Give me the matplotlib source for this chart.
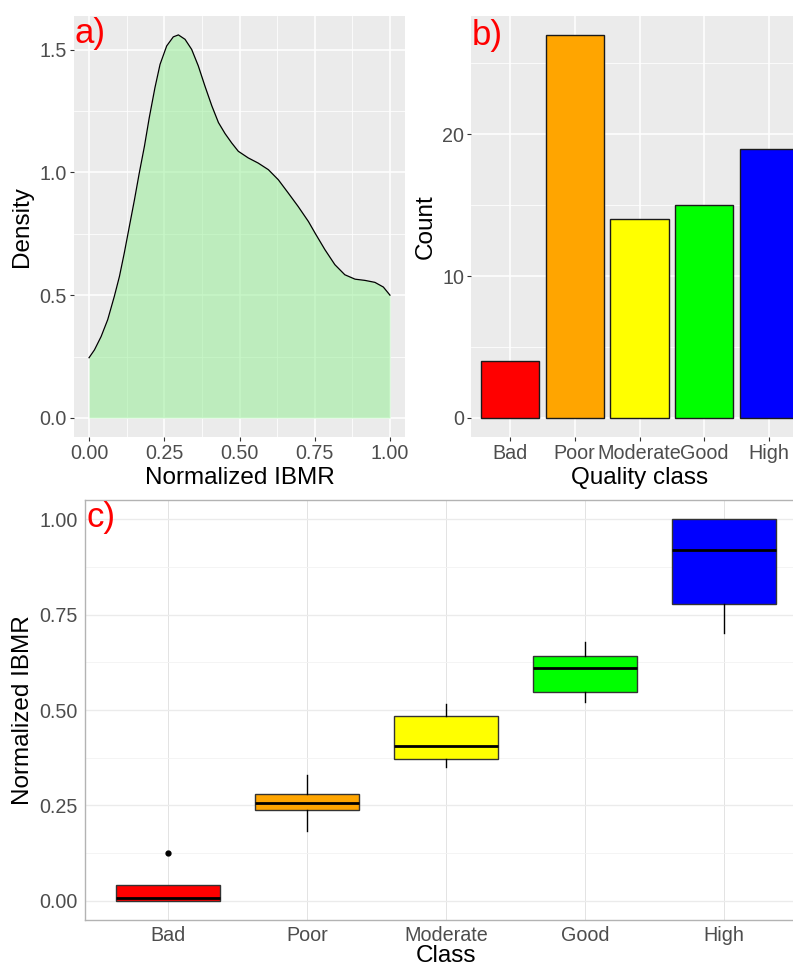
import numpy as np
import matplotlib
matplotlib.use("Agg")
from matplotlib import pyplot as plt
from matplotlib.ticker import MultipleLocator

plt.rcParams['font.family'] = ['Liberation Sans', 'DejaVu Sans']

# panel a: density curve
dens_x = [0.0, 0.018, 0.040, 0.062, 0.084, 0.101, 0.117, 0.134, 0.151, 0.167,
          0.184, 0.200, 0.219, 0.236, 0.258, 0.280, 0.297, 0.319, 0.341, 0.363,
          0.385, 0.408, 0.430, 0.452, 0.474, 0.496, 0.529, 0.562, 0.596, 0.629,
          0.662, 0.695, 0.729, 0.751, 0.784, 0.817, 0.850, 0.884, 0.917, 0.950,
          0.978, 1.0]
dens_y = [0.245, 0.277, 0.331, 0.400, 0.495, 0.576, 0.671, 0.780, 0.889, 0.998,
          1.106, 1.222, 1.345, 1.440, 1.515, 1.552, 1.560, 1.542, 1.501, 1.434,
          1.352, 1.271, 1.203, 1.158, 1.120, 1.086, 1.059, 1.038, 1.011, 0.970,
          0.916, 0.861, 0.800, 0.753, 0.685, 0.624, 0.583, 0.565, 0.560, 0.552,
          0.533, 0.500]

# panel b: counts per class
classes = ["Bad", "Poor", "Moderate", "Good", "High"]
counts = [4, 27, 14, 15, 19]
class_colors = ["#FF0000", "#FFA500", "#FFFF00", "#00FF00", "#0000FF"]

# panel c: boxplot summaries
q1 = [0.0, 0.237, 0.371, 0.548, 0.778]
med = [0.008, 0.257, 0.407, 0.609, 0.919]
q3 = [0.041, 0.280, 0.483, 0.642, 1.0]
whis_lo = [0.0, 0.184, 0.352, 0.520, 0.702]
whis_hi = [0.041, 0.329, 0.517, 0.679, 1.0]
outliers = [[0.125], [], [], [], []]

W, H = 793, 967
fig = plt.figure(figsize=(W / 100, H / 100), dpi=100)

def px_axes(l, t, r, b):
    return fig.add_axes([l / W, 1 - b / H, (r - l) / W, (b - t) / H])

tick_col = "#4D4D4D"
tick_fs = 14.2
title_fs = 17.5

def gray_theme(ax):
    ax.set_facecolor("#EBEBEB")
    for s in ax.spines.values():
        s.set_visible(False)
    ax.grid(which="major", color="white", linewidth=1.1)
    ax.grid(which="minor", color="white", linewidth=0.55)
    ax.set_axisbelow(True)
    ax.tick_params(which="major", length=2.75, width=0.8, color="#333333",
                   labelsize=tick_fs, labelcolor=tick_col, pad=2.2)
    ax.tick_params(which="minor", length=0)

# ---- a) density
ax1 = px_axes(74, 16, 405, 437)
gray_theme(ax1)
ax1.fill_between(dens_x, 0, dens_y, color="lightgreen", alpha=0.5, linewidth=0)
ax1.plot(dens_x, dens_y, color="black", linewidth=0.9)
ax1.set_xlim(-0.05, 1.05)
ax1.set_ylim(-0.0779, 1.637)
ax1.set_xticks([0, 0.25, 0.5, 0.75, 1.0])
ax1.set_xticklabels(["0.00", "0.25", "0.50", "0.75", "1.00"])
ax1.xaxis.set_minor_locator(MultipleLocator(0.125))
ax1.set_yticks([0, 0.5, 1.0, 1.5])
ax1.set_yticklabels(["0.0", "0.5", "1.0", "1.5"])
ax1.yaxis.set_minor_locator(MultipleLocator(0.25))
ax1.set_xlabel("Normalized IBMR", fontsize=title_fs, labelpad=3)
ax1.set_ylabel("Density", fontsize=title_fs, labelpad=5)

# ---- b) counts
ax2 = px_axes(471, 16, 808, 437)
gray_theme(ax2)
pos = np.arange(1, len(classes) + 1)
ax2.bar(pos, counts, width=0.9, color=class_colors, edgecolor="#1A1A1A", linewidth=1.0)
ax2.set_xlim(0.4, 5.6)
ax2.set_ylim(-1.35, 28.35)
ax2.set_xticks(pos)
ax2.set_xticklabels(classes)
ax2.set_yticks([0, 10, 20])
ax2.yaxis.set_minor_locator(MultipleLocator(5))
ax2.set_xlabel("Quality class", fontsize=title_fs, labelpad=3)
ax2.set_ylabel("Count", fontsize=title_fs, labelpad=4)

# ---- c) boxplots
ax3 = px_axes(85, 500, 807, 920)
stats = []
for i in range(len(classes)):
    stats.append({"med": med[i], "q1": q1[i], "q3": q3[i],
                  "whislo": whis_lo[i], "whishi": whis_hi[i],
                  "fliers": outliers[i]})
bp = ax3.bxp(stats, positions=pos, widths=0.75, patch_artist=True, showcaps=False,
             boxprops=dict(edgecolor="#333333", linewidth=1.0),
             medianprops=dict(color="black", linewidth=2.0),
             whiskerprops=dict(color="black", linewidth=1.0),
             flierprops=dict(marker="o", markersize=3.5, markerfacecolor="black",
                             markeredgecolor="black"))
for patch, c in zip(bp["boxes"], class_colors):
    patch.set_facecolor(c)
ax3.set_xlim(0.4, 5.6)
ax3.set_ylim(-0.05, 1.05)
ax3.set_xticks(pos)
ax3.set_xticklabels(classes)
ax3.set_yticks([0, 0.25, 0.5, 0.75, 1.0])
ax3.set_yticklabels(["0.00", "0.25", "0.50", "0.75", "1.00"])
ax3.yaxis.set_minor_locator(MultipleLocator(0.125))
ax3.grid(which="major", axis="y", color="#EBEBEB", linewidth=1.0)
ax3.grid(which="minor", axis="y", color="#F3F3F3", linewidth=0.6)
ax3.grid(which="major", axis="x", color="#DEDEDE", linewidth=0.6)
ax3.set_axisbelow(True)
for s in ax3.spines.values():
    s.set_color("#B3B3B3")
    s.set_linewidth(1.0)
ax3.tick_params(which="both", length=0, labelsize=tick_fs, labelcolor=tick_col, pad=4)
ax3.tick_params(axis="y", pad=5)
ax3.set_xlabel("Class", fontsize=title_fs, labelpad=0)
ax3.set_ylabel("Normalized IBMR", fontsize=title_fs, labelpad=4)

# panel letters
for lab, x, y in [("a)", 75, 43), ("b)", 472, 45), ("c)", 87, 527)]:
    fig.text(x / W, 1 - y / H, lab, color="red", fontsize=25, ha="left", va="baseline")

fig.savefig("out.png", dpi=100)
